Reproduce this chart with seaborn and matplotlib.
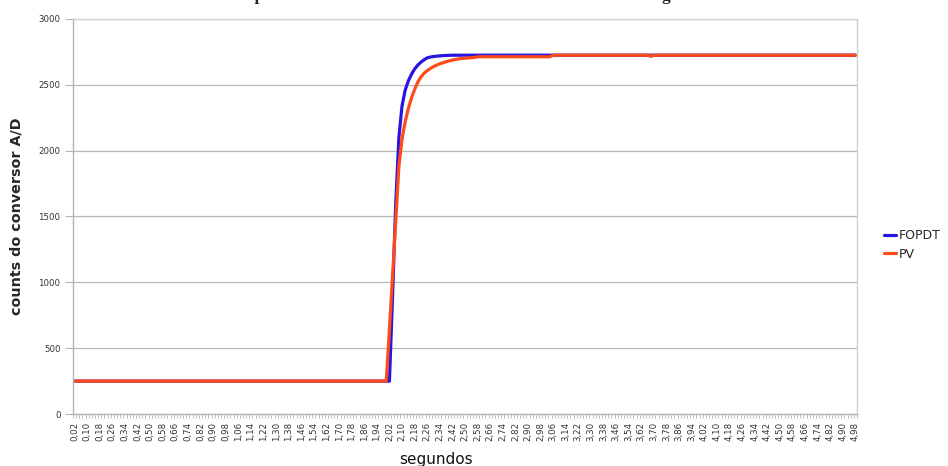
import matplotlib
matplotlib.use("Agg")
import matplotlib.pyplot as plt
import seaborn as sns
import pandas as pd
from matplotlib.ticker import FixedLocator

# ---- data ----
tempo = [f"{(i + 1) * 0.02:.2f}".replace(".", ",") for i in range(249)]  # 0,02 .. 4,98

fopdt = ([250] * 101
         + [900, 1600, 2100, 2340, 2460, 2530, 2580, 2620, 2650, 2672,
            2690, 2705, 2711, 2715, 2718, 2720, 2722, 2723, 2724]
         + [2725] * 129)

pv = ([250] * 100
      + [640, 1050, 1450, 1880, 2090, 2220, 2320, 2400, 2465, 2520,
         2560, 2588, 2608, 2624, 2638, 2650, 2660, 2668, 2675, 2682,
         2688, 2693, 2697, 2700, 2702, 2704, 2706, 2708]
      + [2713] * 24
      + [2725] * 31 + [2716] + [2725] * 65)

series_names = ["FOPDT", "PV"]
colors = {"FOPDT": "#2a14e0", "PV": "#ff4a1a"}
yticks = [0, 500, 1000, 1500, 2000, 2500, 3000]

df = pd.DataFrame({
    "idx": list(range(len(tempo))) * 2,
    "valor": fopdt + pv,
    "serie": ["FOPDT"] * len(fopdt) + ["PV"] * len(pv),
})

sns.set_style("white")
plt.rcParams["font.family"] = ["DejaVu Sans"]

fig = plt.figure(figsize=(9.48, 4.66), dpi=100)
ax = fig.add_axes([73 / 948, 1 - 414 / 466, (857 - 73) / 948, (414 - 19) / 466])

sns.lineplot(data=df, x="idx", y="valor", hue="serie", hue_order=series_names,
             palette=colors, linewidth=2.3, ax=ax, legend=False, sort=False)

ax.set_xlim(-0.5, len(tempo) - 0.5)
ax.set_ylim(0, 3000)

# y axis
ax.set_yticks(yticks)
ax.set_yticklabels([str(v) for v in yticks], fontsize=6.2, color="#333333")
ax.yaxis.grid(True, color="#b8b8b8", linewidth=0.9)
ax.xaxis.grid(False)
ax.tick_params(axis="y", length=6, width=0.8, color="#b3b3b3", pad=3, left=True)

# x axis: labels every 4 categories, small ticks at category boundaries
major_pos = list(range(0, len(tempo), 4))
ax.set_xticks(major_pos)
ax.set_xticklabels([tempo[i] for i in major_pos], rotation=90, fontsize=6.2,
                   color="#333333")
ax.tick_params(axis="x", length=0, pad=6, bottom=True)
ax.xaxis.set_minor_locator(FixedLocator([i - 0.5 for i in range(len(tempo) + 1)]))
ax.tick_params(axis="x", which="minor", length=3, width=0.6, color="#b3b3b3",
               bottom=True)

for side in ["left", "bottom"]:
    ax.spines[side].set_color("#b3b3b3")
    ax.spines[side].set_linewidth(1.0)
for side in ["top", "right"]:
    ax.spines[side].set_color("#d0d0d0")
    ax.spines[side].set_linewidth(1.0)

ax.set_ylabel("counts do conversor A/D", fontsize=10.3, fontweight="bold")
ax.set_xlabel("segundos", fontsize=11, color="#111111")
ax.xaxis.set_label_coords((436 - 73) / (857 - 73), -(452 - 414) / (414 - 19), transform=ax.transAxes)
ax.xaxis.label.set_verticalalignment("top")
ax.yaxis.set_label_coords(-(73 - 24) / (857 - 73), 0.5)

# legend
handles = [plt.Line2D([], [], color=colors[s], linewidth=2.3) for s in series_names]
fig.legend(handles, series_names, loc="center left",
           bbox_to_anchor=(884 / 948, 1 - 245 / 466), frameon=False,
           fontsize=9.0, handlelength=0.95, handletextpad=0.2,
           labelspacing=0.45, borderaxespad=0, borderpad=0)

# title (cut off at the top in the reference)
fig.text(457.6 / 948, 1 - 0.5 / 466,
         "Comparativo entre o modelo FOPDT e a PV no ensaio de degrau",
         ha="center", va="baseline", fontsize=12.4, fontweight="bold",
         family="Liberation Serif")

fig.savefig("out.png", dpi=100)
